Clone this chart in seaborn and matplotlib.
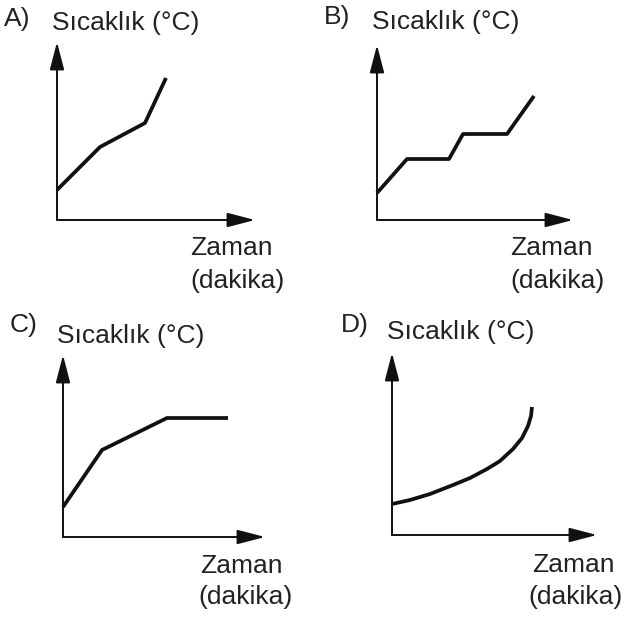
import matplotlib
matplotlib.use("Agg")
import matplotlib.pyplot as plt
import seaborn as sns
import pandas as pd

# Data (time in arbitrary units, temperature in arbitrary units)
time_A = [0, 43, 88, 109]
temp_A = [30, 73, 97, 142]

time_B = [0, 30, 72, 86, 130, 157]
temp_B = [27, 61, 61, 86, 86, 124]

time_C = [0, 39, 104, 165]
temp_C = [30, 87, 119, 119]

time_D = [0, 18, 38, 61, 78, 95, 108, 121, 130, 136, 139, 140]
temp_D = [31, 35, 41, 50, 57, 66, 74, 86, 97, 109, 119, 128]

panel_letters = ["A)", "B)", "C)", "D)"]
y_label = "Sıcaklık (°C)"
x_label_1 = "Zaman"
x_label_2 = "(dakika)"

sns.set_style("white")
plt.rcParams["font.family"] = ["Liberation Sans", "DejaVu Sans"]

W, H = 629, 617
fig = plt.figure(figsize=(W / 100, H / 100), dpi=100)

# origin (px), axis extents (px), text positions (px)
panels = [
    dict(t=time_A, v=temp_A, ox=57, oy=220, w=198, h=178,
         letter=(4, 19), ylab=(52, 23), z=(190, 248), d=(190, 281)),
    dict(t=time_B, v=temp_B, ox=377, oy=220, w=196, h=175,
         letter=(324, 17), ylab=(372, 22), z=(510, 248), d=(510, 281)),
    dict(t=time_C, v=temp_C, ox=63, oy=537, w=202, h=182,
         letter=(10, 325), ylab=(57, 336), z=(200, 566), d=(198, 597)),
    dict(t=time_D, v=temp_D, ox=392, oy=535, w=205, h=182,
         letter=(341, 325), ylab=(387, 332), z=(532, 565), d=(528, 597)),
]

txt_color = "#222222"
fs = 19

for p, letter in zip(panels, panel_letters):
    ax = fig.add_axes([p["ox"] / W, (H - p["oy"]) / H, p["w"] / W, p["h"] / H])
    ax.set_xlim(0, p["w"])
    ax.set_ylim(0, p["h"])
    ax.patch.set_alpha(0)
    for s in ax.spines.values():
        s.set_visible(False)
    ax.set_xticks([])
    ax.set_yticks([])
    df = pd.DataFrame({"t": p["t"], "v": p["v"]})
    sns.lineplot(data=df, x="t", y="v", ax=ax, color="#111111", lw=2.7,
                 sort=False, solid_joinstyle="round", solid_capstyle="butt",
                 clip_on=False)
    ax.set_xlabel("")
    ax.set_ylabel("")
    style = "-|>,head_length=1.0,head_width=0.26"
    for end in [(1, 0), (0, 1)]:
        ax.annotate("", xy=end, xytext=(0, 0), xycoords="axes fraction",
                    textcoords="axes fraction",
                    arrowprops=dict(arrowstyle=style, lw=1.4, color="#111111",
                                    mutation_scale=17, shrinkA=0, shrinkB=0))
    fig.text(p["letter"][0] / W, 1 - p["letter"][1] / H, letter, ha="left",
             va="center", fontsize=fs, color=txt_color)
    fig.text(p["ylab"][0] / W, 1 - p["ylab"][1] / H, y_label, ha="left",
             va="center", fontsize=fs, color=txt_color)
    fig.text(p["z"][0] / W, 1 - p["z"][1] / H, x_label_1, ha="left",
             va="center", fontsize=fs, color=txt_color)
    fig.text(p["d"][0] / W, 1 - p["d"][1] / H, x_label_2, ha="left",
             va="center", fontsize=fs, color=txt_color)

fig.savefig("out.png", dpi=100)
